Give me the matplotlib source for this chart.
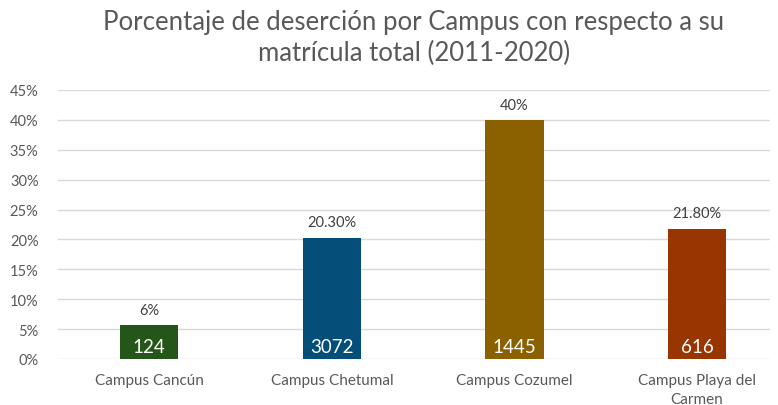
import matplotlib
matplotlib.use("Agg")
import matplotlib.pyplot as plt
from matplotlib.ticker import PercentFormatter

categories = ["Campus Cancún", "Campus Chetumal", "Campus Cozumel", "Campus Playa del\nCarmen"]
values = [0.057, 0.203, 0.40, 0.218]
top_labels = ["6%", "20.30%", "40%", "21.80%"]
inner_labels = ["124", "3072", "1445", "616"]
colors = ["#245519", "#044e7a", "#8b6100", "#993500"]

plt.rcParams['font.family'] = ['Lato', 'DejaVu Sans']
fig = plt.figure(figsize=(7.78, 4.06), dpi=100)
W, H = 778, 406
ax = fig.add_axes([58 / W, 46 / H, (770 - 58) / W, (360 - 91) / H])

x = list(range(len(categories)))
ax.bar(x, values, width=0.32, color=colors, zorder=3)
for xi, v, t, n in zip(x, values, top_labels, inner_labels):
    ax.annotate(t, (xi, v), xytext=(0, 6), textcoords="offset points",
                ha="center", va="bottom", fontsize=10.5, color="#404040")
    ax.text(xi, 0.006, n, ha="center", va="bottom", fontsize=13.5, color="white", zorder=4)

ax.set_xlim(-0.5, 3.4)
ax.set_ylim(0, 0.45)
ax.set_yticks([i * 0.05 for i in range(10)])
ax.yaxis.set_major_formatter(PercentFormatter(1.0, decimals=0))
ax.grid(axis="y", color="#d9d9d9", linewidth=1, zorder=0)
ax.set_xticks(x)
ax.set_xticklabels(categories, fontsize=11, color="#595959", linespacing=1.5)
ax.tick_params(axis="y", labelsize=10.5, labelcolor="#595959", length=0, pad=14)
ax.tick_params(axis="x", length=0, pad=10)
for s in ax.spines.values():
    s.set_visible(False)

fig.text(0.5 * (58 + 770) / W + 0.0, 1 - 38 / H, "Porcentaje de deserción por Campus con respecto a su\nmatrícula total (2011-2020)",
         ha="center", va="center", fontsize=18.5, color="#595959", linespacing=1.3)

fig.savefig("out.png", dpi=100)
